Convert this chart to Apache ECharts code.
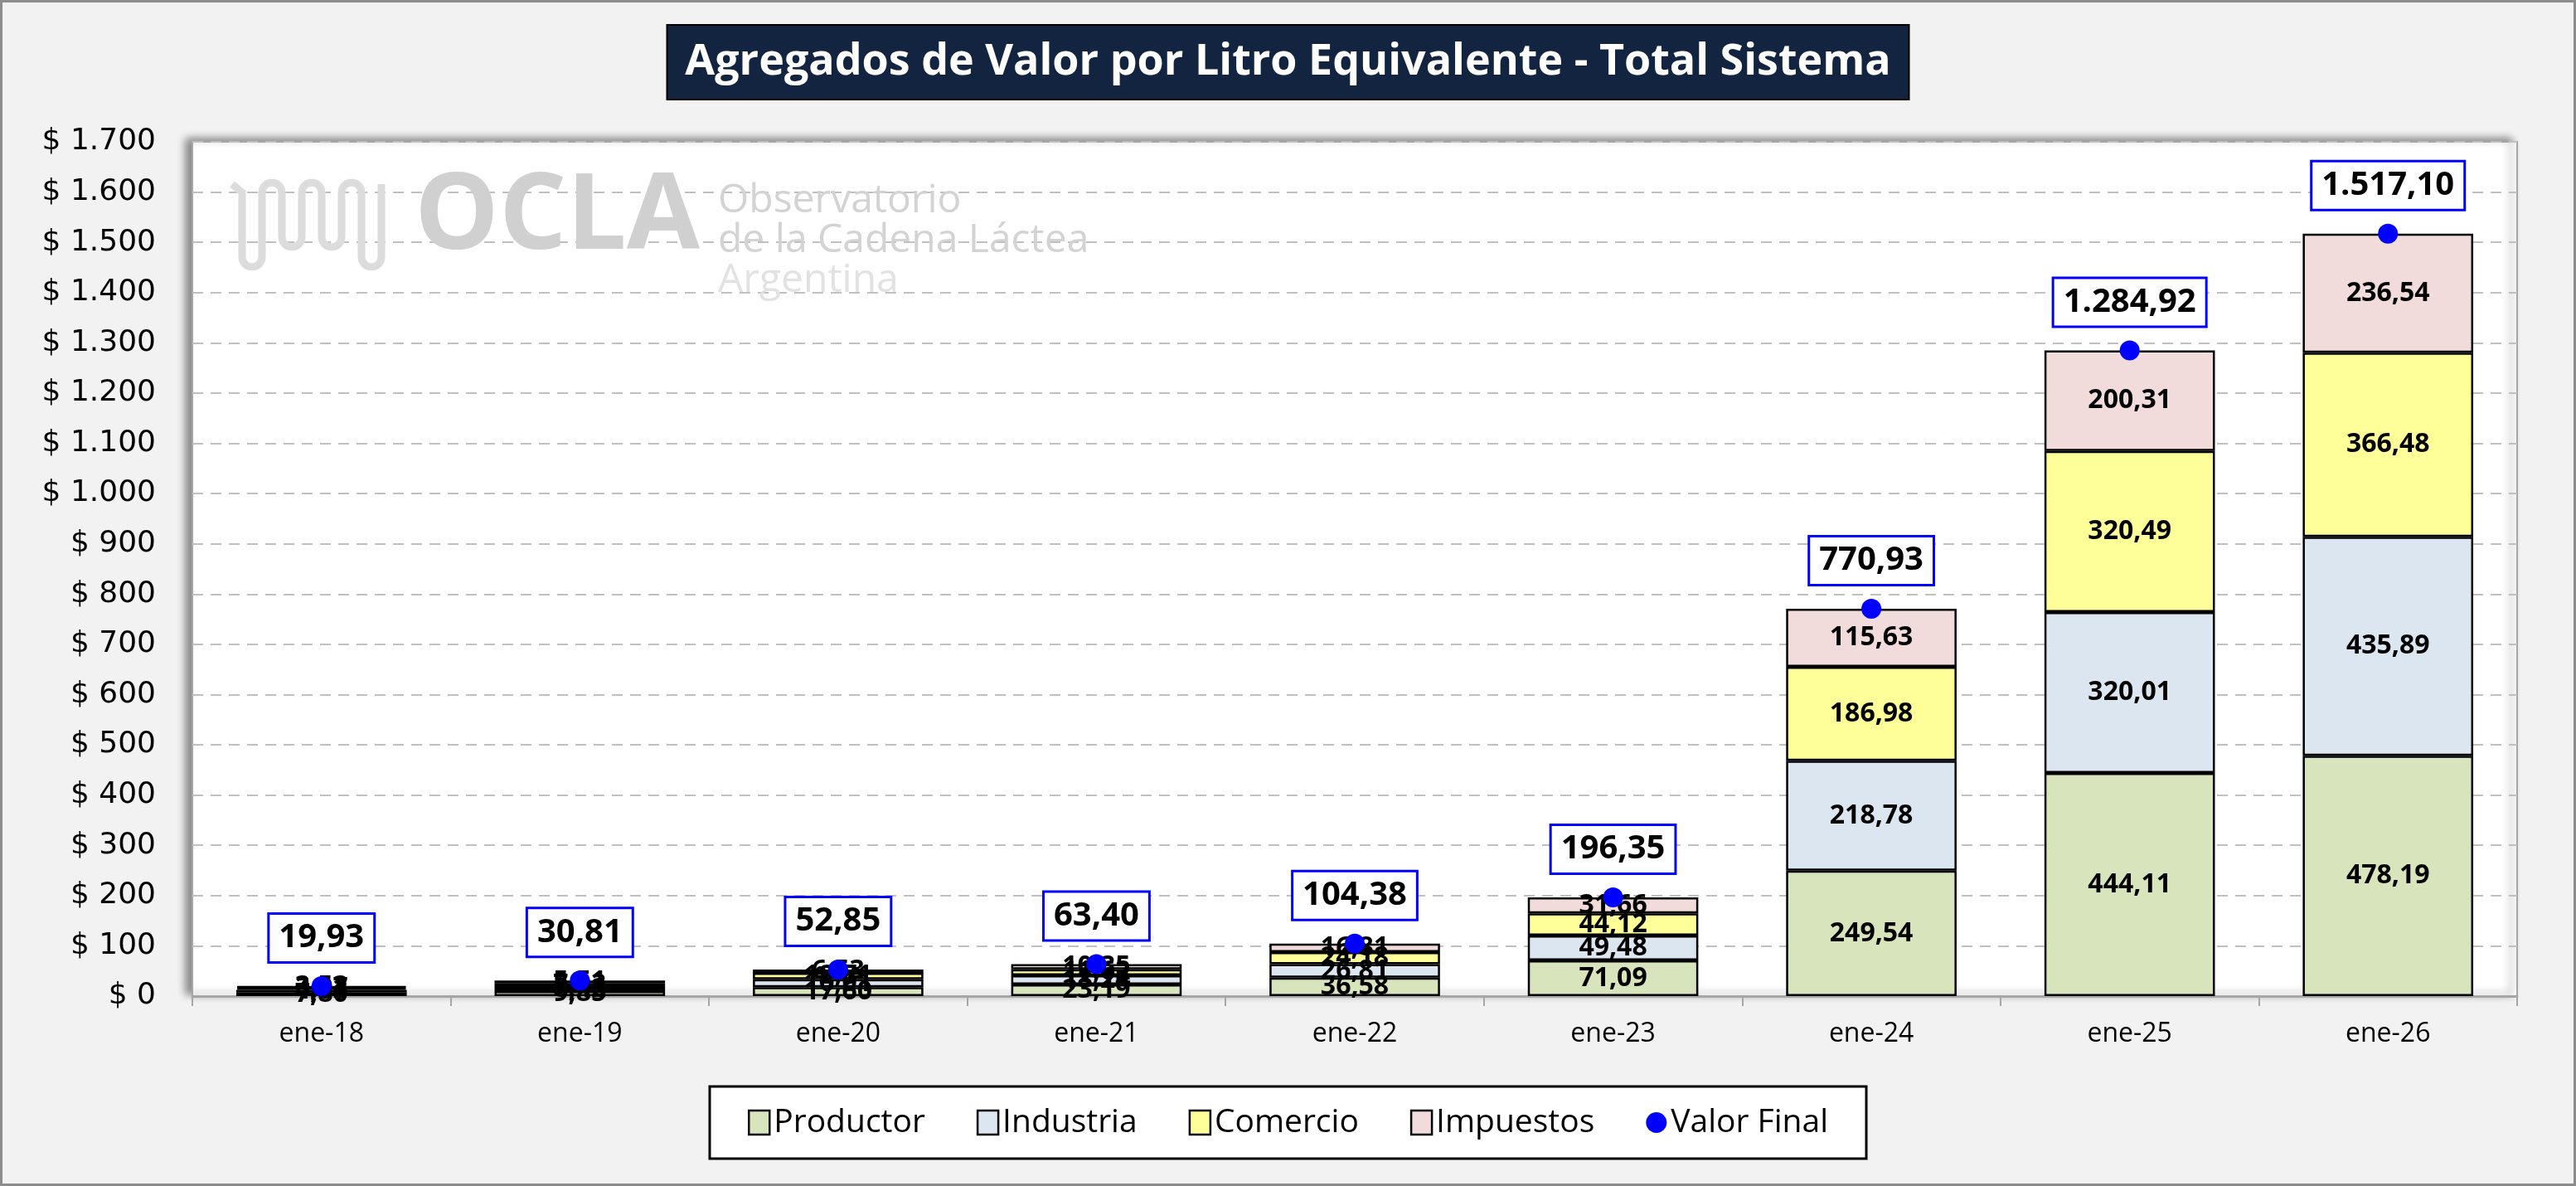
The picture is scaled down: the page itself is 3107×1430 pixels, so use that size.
<!DOCTYPE html>
<html>
<head>
<meta charset="utf-8">
<script src="https://cdn.jsdelivr.net/npm/echarts@6/dist/echarts.min.js"></script>
<style>
html,body{margin:0;padding:0;background:#f2f2f2;}
#chart{width:3107px;height:1430px;}
</style>
</head>
<body>
<div id="chart"></div>
<script>
const categories = ['ene-18','ene-19','ene-20','ene-21','ene-22','ene-23','ene-24','ene-25','ene-26'];
const productor  = [7.80, 9.85, 17.60, 23.19, 36.58, 71.09, 249.54, 444.11, 478.19];
const industria  = [4.63, 8.42, 16.01, 18.24, 26.81, 49.48, 218.78, 320.01, 435.89];
const comercio   = [3.97, 7.03, 12.71, 11.62, 24.18, 44.12, 186.98, 320.49, 366.48];
const impuestos  = [3.53, 5.51, 6.53, 10.35, 16.81, 31.66, 115.63, 200.31, 236.54];
const valorFinal = [19.93, 30.81, 52.85, 63.40, 104.38, 196.35, 770.93, 1284.92, 1517.10];
const yMin = 0, yMax = 1700, yStep = 100;

function fmt(v, dec) {
  const s = Number(v).toFixed(dec);
  let [i, d] = s.split('.');
  i = i.replace(/\B(?=(\d{3})+(?!\d))/g, '.');
  return d !== undefined ? i + ',' + d : i;
}

// decorative watermark squiggle (logo), built from half-circle arcs
function squigglePoints() {
  const pts = [];
  const r = 12, top = 232, midBottom = 286, longBottom = 310;
  const cols = [292, 316, 340, 364, 388, 412, 436, 460];
  pts.push([280, 222]);
  for (let k = 0; k < cols.length - 1; k++) {
    const x0 = cols[k], cx = x0 + r;
    const down = (k % 2 === 0);
    const bottom = (k === 0 || k === cols.length - 2) ? longBottom : midBottom;
    if (down) {
      pts.push([x0, top]); pts.push([x0, bottom]);
      for (let a = 180; a <= 360; a += 20) {
        const t = a * Math.PI / 180;
        pts.push([cx + r * Math.cos(t), bottom - r * Math.sin(t)]);
      }
    } else {
      pts.push([x0, bottom]); pts.push([x0, top]);
      for (let a = 180; a >= 0; a -= 20) {
        const t = a * Math.PI / 180;
        pts.push([cx + r * Math.cos(t), top - r * Math.sin(t)]);
      }
    }
  }
  pts.push([460, 222]);
  return pts;
}

const UI = "'Open Sans', 'Noto Sans', sans-serif";
const segLabel = {
  show: true, position: 'inside', color: '#000', fontFamily: UI,
  fontWeight: 'bold', fontSize: 32,
  formatter: p => fmt(p.value, 2)
};
function barSeries(name, data, color) {
  return {
    name, type: 'bar', stack: 'total', data, barWidth: '66%',
    itemStyle: { color, borderColor: '#000', borderWidth: 2.5 },
    label: segLabel, z: 2
  };
}

const chart = echarts.init(document.getElementById('chart'));
chart.setOption({
  backgroundColor: '#f2f2f2',
  animation: false,
  title: {
    text: 'Agregados de Valor por Litro Equivalente - Total Sistema',
    left: 'center', top: 30,
    backgroundColor: '#12243f', borderColor: '#000', borderWidth: 2,
    padding: [19, 22],
    textStyle: { color: '#fff', fontFamily: UI, fontWeight: 'bold', fontSize: 52 }
  },
  grid: {
    left: 232, right: 71, top: 171, bottom: 229, show: true,
    backgroundColor: '#fff', borderColor: '#a6a6a6', borderWidth: 2,
    shadowColor: 'rgba(0,0,0,0.45)', shadowBlur: 10, shadowOffsetX: -7, shadowOffsetY: -3
  },
  legend: {
    left: 'center', top: 1310,
    backgroundColor: '#fff', borderColor: '#000', borderWidth: 3,
    padding: [24, 46], itemGap: 62, itemWidth: 25, itemHeight: 29,
    textStyle: { color: '#000', fontFamily: UI, fontSize: 39 },
    data: [
      { name: 'Productor', icon: 'rect', itemStyle: { borderColor: '#000', borderWidth: 2.5 } },
      { name: 'Industria', icon: 'rect', itemStyle: { borderColor: '#000', borderWidth: 2.5 } },
      { name: 'Comercio', icon: 'rect', itemStyle: { borderColor: '#000', borderWidth: 2.5 } },
      { name: 'Impuestos', icon: 'rect', itemStyle: { borderColor: '#000', borderWidth: 2.5 } },
      { name: 'Valor Final', icon: 'circle', itemStyle: { borderWidth: 0, opacity: 1 } }
    ]
  },
  xAxis: {
    type: 'category', data: categories,
    axisLine: { lineStyle: { color: '#a6a6a6', width: 3 } },
    axisTick: { show: true, length: 12, lineStyle: { color: '#a6a6a6', width: 2 } },
    axisLabel: { color: '#000', fontFamily: UI, fontSize: 32, margin: 30 }
  },
  yAxis: {
    type: 'value', min: yMin, max: yMax, interval: yStep,
    axisLine: { show: false }, axisTick: { show: false },
    splitLine: { lineStyle: { color: '#c0c0c0', width: 2, type: [13, 9] } },
    axisLabel: { color: '#000', fontFamily: "'DejaVu Sans', sans-serif", fontSize: 36, margin: 44,
      formatter: v => '$ ' + fmt(v, 0) }
  },
  graphic: [
    { type: 'rect', z: 100, silent: true,
      shape: { x: 1.5, y: 1.5, width: 3104, height: 1427 },
      style: { fill: 'none', stroke: '#8c8c8c', lineWidth: 3 } },
    { type: 'polyline', z: 1, silent: true,
      shape: { points: squigglePoints() },
      style: { fill: 'none', stroke: '#dcdcdc', lineWidth: 9 } },
    { type: 'text', z: 1, silent: true, x: 500, y: 200,
      style: { text: 'OCLA', fill: '#d0d0d0', font: "bold 128px 'Open Sans', sans-serif" } },
    { type: 'text', z: 1, silent: true, x: 866, y: 218,
      style: { text: 'Observatorio', fill: '#d3d3d3', font: "48px 'Open Sans', sans-serif" } },
    { type: 'text', z: 1, silent: true, x: 866, y: 266,
      style: { text: 'de la Cadena Láctea', fill: '#d3d3d3', font: "48px 'Open Sans', sans-serif" } },
    { type: 'text', z: 1, silent: true, x: 866, y: 314,
      style: { text: 'Argentina', fill: '#e2e2e2', font: "48px 'Open Sans', sans-serif" } }
  ],
  series: [
    barSeries('Productor', productor, '#d8e4bc'),
    barSeries('Industria', industria, '#dce6f1'),
    barSeries('Comercio', comercio, '#ffff99'),
    barSeries('Impuestos', impuestos, '#f2dcdb'),
    {
      name: 'Valor Final', type: 'scatter', data: valorFinal, z: 5,
      symbol: 'circle', symbolSize: 24,
      itemStyle: { color: '#0000ff', opacity: 1 },
      label: {
        show: true, position: 'top', distance: 18,
        formatter: p => fmt(p.value, 2),
        color: '#000', fontFamily: UI, fontWeight: 'bold', fontSize: 40,
        backgroundColor: '#fff', borderColor: '#0000ff', borderWidth: 3,
        padding: [8, 11]
      }
    }
  ]
});
</script>
</body>
</html>
